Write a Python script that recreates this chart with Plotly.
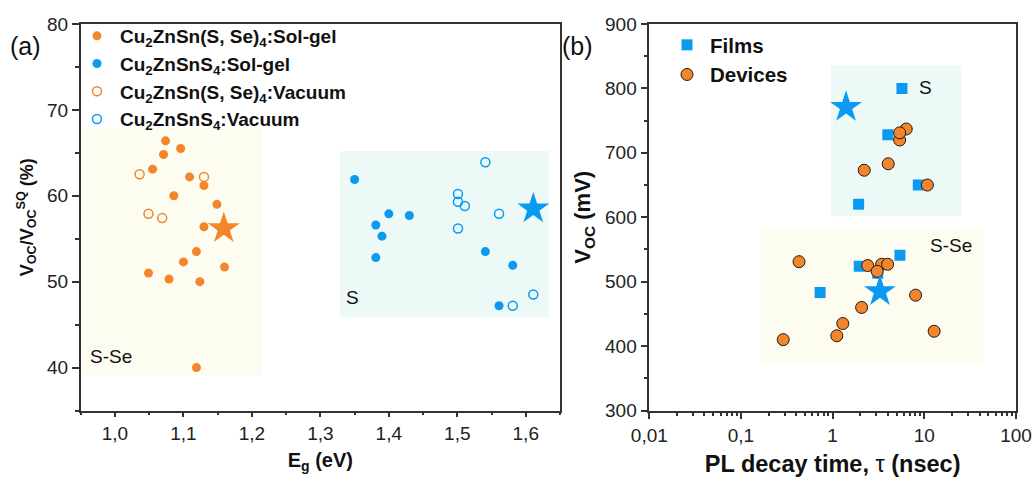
import math
import plotly.graph_objects as go

# ---------------- data: panel (a) ----------------
cztsse_solgel_eg = [1.074, 1.096, 1.071, 1.055, 1.109, 1.130, 1.086, 1.149, 1.130, 1.119, 1.100, 1.160, 1.049, 1.079, 1.124, 1.119]
cztsse_solgel_v = [66.4, 65.5, 64.8, 63.1, 62.2, 61.2, 60.0, 59.0, 56.4, 53.5, 52.3, 51.7, 51.0, 50.3, 50.0, 40.0]
czts_solgel_eg = [1.350, 1.400, 1.430, 1.381, 1.390, 1.381, 1.541, 1.581, 1.561]
czts_solgel_v = [61.9, 57.9, 57.7, 56.6, 55.3, 52.8, 53.5, 51.9, 47.2]
cztsse_vac_eg = [1.036, 1.130, 1.049, 1.069]
cztsse_vac_v = [62.5, 62.2, 57.9, 57.4]
czts_vac_eg = [1.541, 1.501, 1.501, 1.511, 1.561, 1.501, 1.611, 1.581]
czts_vac_v = [63.9, 60.2, 59.3, 58.8, 57.9, 56.2, 48.5, 47.2]
star_a_eg = [1.159, 1.611]
star_a_v = [56.2, 58.5]
region_a_sse_x = [0.952, 1.215]
region_a_sse_y = [39.1, 67.9]
region_a_s_x = [1.329, 1.634]
region_a_s_y = [45.85, 65.2]

# ---------------- data: panel (b) ----------------
films_tau = [5.7, 4.0, 8.6, 1.92, 5.42, 1.95, 3.1, 0.73]
films_voc = [800, 728, 650, 620, 541, 524, 513, 483]
devices_tau = [6.35, 5.38, 5.38, 4.04, 2.21, 10.8, 0.43, 2.41, 3.42, 3.98, 3.06, 8.03, 2.07, 1.29, 1.11, 0.289, 12.8]
devices_voc = [737, 720, 731, 683, 673, 650, 531, 525, 527, 527, 516, 479, 460, 435, 416, 410, 423]
star_b_tau = [1.40, 3.28]
star_b_voc = [771, 485]
region_b_s_x = [0.96, 25.5]
region_b_s_y = [601.7, 835.5]
region_b_sse_x = [0.164, 43.9]
region_b_sse_y = [375, 581]

ORANGE = "#F3862A"
BLUE = "#0A9AF2"
YEL_BG = "#FCFCF0"
CYAN_BG = "#EDF9F7"
FONT = "Liberation Sans, Arial, sans-serif"
AXC = "#333333"

fig = go.Figure()

# panel (a)
fig.add_trace(go.Scatter(x=cztsse_solgel_eg, y=cztsse_solgel_v, mode="markers",
                         marker=dict(symbol="circle", size=9, color=ORANGE),
                         name="<b>Cu<sub>2</sub>ZnSn(S, Se)<sub>4</sub>:Sol-gel</b>",
                         xaxis="x", yaxis="y", legend="legend"))
fig.add_trace(go.Scatter(x=czts_solgel_eg, y=czts_solgel_v, mode="markers",
                         marker=dict(symbol="circle", size=9, color=BLUE),
                         name="<b>Cu<sub>2</sub>ZnSnS<sub>4</sub>:Sol-gel</b>",
                         xaxis="x", yaxis="y", legend="legend"))
fig.add_trace(go.Scatter(x=cztsse_vac_eg, y=cztsse_vac_v, mode="markers",
                         marker=dict(symbol="circle-open", size=9, color=ORANGE, line=dict(width=1.5)),
                         name="<b>Cu<sub>2</sub>ZnSn(S, Se)<sub>4</sub>:Vacuum</b>",
                         xaxis="x", yaxis="y", legend="legend"))
fig.add_trace(go.Scatter(x=czts_vac_eg, y=czts_vac_v, mode="markers",
                         marker=dict(symbol="circle-open", size=9, color=BLUE, line=dict(width=1.5)),
                         name="<b>Cu<sub>2</sub>ZnSnS<sub>4</sub>:Vacuum</b>",
                         xaxis="x", yaxis="y", legend="legend"))
fig.add_trace(go.Scatter(x=star_a_eg, y=star_a_v, mode="markers",
                         marker=dict(symbol="star", size=24, color=[ORANGE, BLUE]),
                         showlegend=False, xaxis="x", yaxis="y"))

# panel (b)
fig.add_trace(go.Scatter(x=films_tau, y=films_voc, mode="markers",
                         marker=dict(symbol="square", size=11, color=BLUE),
                         name="<b>Films</b>", xaxis="x2", yaxis="y2", legend="legend2"))
fig.add_trace(go.Scatter(x=devices_tau, y=devices_voc, mode="markers",
                         marker=dict(symbol="circle", size=12, color=ORANGE, line=dict(color="#1a1a1a", width=1)),
                         name="<b>Devices</b>", xaxis="x2", yaxis="y2", legend="legend2"))
fig.add_trace(go.Scatter(x=star_b_tau, y=star_b_voc, mode="markers",
                         marker=dict(symbol="star", size=24, color=BLUE),
                         showlegend=False, xaxis="x2", yaxis="y2"))

# background regions
def rect(xr, yr, xref, yref, color):
    fig.add_shape(type="rect", x0=xr[0], x1=xr[1], y0=yr[0], y1=yr[1],
                  xref=xref, yref=yref, fillcolor=color, line=dict(width=0), layer="below")

rect(region_a_sse_x, region_a_sse_y, "x", "y", YEL_BG)
rect(region_a_s_x, region_a_s_y, "x", "y", CYAN_BG)
rect(region_b_s_x, region_b_s_y, "x2", "y2", CYAN_BG)
rect(region_b_sse_x, region_b_sse_y, "x2", "y2", YEL_BG)

# region labels
lab_font = dict(family=FONT, size=19, color="#111111")
fig.add_annotation(x=0.960, y=41.3, xref="x", yref="y", text="S-Se", showarrow=False,
                   xanchor="left", yanchor="middle", font=lab_font)
fig.add_annotation(x=1.335, y=48.2, xref="x", yref="y", text="S", showarrow=False,
                   xanchor="left", yanchor="middle", font=lab_font)
fig.add_annotation(x=math.log10(8.3), y=801, xref="x2", yref="y2", text="S", showarrow=False,
                   xanchor="left", yanchor="middle", font=lab_font)
fig.add_annotation(x=math.log10(11.0), y=556, xref="x2", yref="y2", text="S-Se", showarrow=False,
                   xanchor="left", yanchor="middle", font=lab_font)

# panel letters
fig.add_annotation(x=8 / 1033, y=1 - 46 / 480, xref="paper", yref="paper", text="(a)", showarrow=False,
                   xanchor="left", yanchor="middle", font=dict(family=FONT, size=25, color="#111111"))
fig.add_annotation(x=560 / 1033, y=1 - 46 / 480, xref="paper", yref="paper", text="(b)", showarrow=False,
                   xanchor="left", yanchor="middle", font=dict(family=FONT, size=25, color="#111111"))

tickfont = dict(family=FONT, size=19, color="#222222")
common = dict(showline=True, linecolor=AXC, linewidth=1.5, mirror=True, ticks="outside",
              tickcolor=AXC, tickwidth=1.5, showgrid=False, zeroline=False, tickfont=tickfont,
              automargin=False)

y0d = 1 - 410.5 / 480
y1d = 1 - 24 / 480

fig.update_layout(
    width=1033, height=480,
    margin=dict(l=0, r=0, t=0, b=0, autoexpand=False),
    paper_bgcolor="white", plot_bgcolor="white",
    separators=",.",
    font=dict(family=FONT, color="#111111"),
    xaxis=dict(domain=[80.7 / 1033, 560 / 1033], range=[0.95, 1.65], tick0=1.0, dtick=0.1,
               tickformat=".1f", ticklen=5,
               minor=dict(ticks="outside", dtick=0.05, ticklen=3, tickcolor=AXC, tickwidth=1.5),
               title=dict(text="<b>E<sub>g</sub> (eV)</b>", font=dict(family=FONT, size=20), standoff=10),
               anchor="y", **common),
    yaxis=dict(domain=[y0d, y1d], range=[35, 80], dtick=10, ticklen=7,
               minor=dict(ticks="outside", dtick=5, ticklen=4, tickcolor=AXC, tickwidth=1.5),
               title=dict(text="<b>V<sub>OC</sub>/V<sub>OC</sub><sup>SQ</sup> (%)</b>",
                          font=dict(family=FONT, size=18), standoff=9),
               anchor="x", **common),
    xaxis2=dict(domain=[649.3 / 1033, 1016 / 1033], type="log", range=[-2, 2], dtick=1, ticklen=7,
                minor=dict(ticks="outside", dtick="D1", ticklen=4, tickcolor=AXC, tickwidth=1.5),
                title=dict(text="<b>PL decay time, </b>τ<b> (nsec)</b>", font=dict(family=FONT, size=23.5), standoff=11),
                anchor="y2", **common),
    yaxis2=dict(domain=[y0d, y1d], range=[300, 900], dtick=100, ticklen=7,
                minor=dict(ticks="outside", dtick=50, ticklen=4, tickcolor=AXC, tickwidth=1.5),
                title=dict(text="<b>V<sub>OC</sub> (mV)</b>", font=dict(family=FONT, size=22), standoff=8),
                anchor="x2", **common),
    legend=dict(x=74 / 1033, y=1 - 17 / 480, xanchor="left", yanchor="top", itemwidth=36,
                bgcolor="rgba(0,0,0,0)", font=dict(family=FONT, size=19, color="#111111"),
                tracegroupgap=0),
    legend2=dict(x=664 / 1033, y=1 - 25 / 480, xanchor="left", yanchor="top", itemwidth=36,
                 bgcolor="rgba(0,0,0,0)", font=dict(family=FONT, size=20.5, color="#111111")),
)

fig.write_html("out.html", config={"displayModeBar": False},
               post_script="document.body.style.margin='0';document.body.style.padding='0';")
